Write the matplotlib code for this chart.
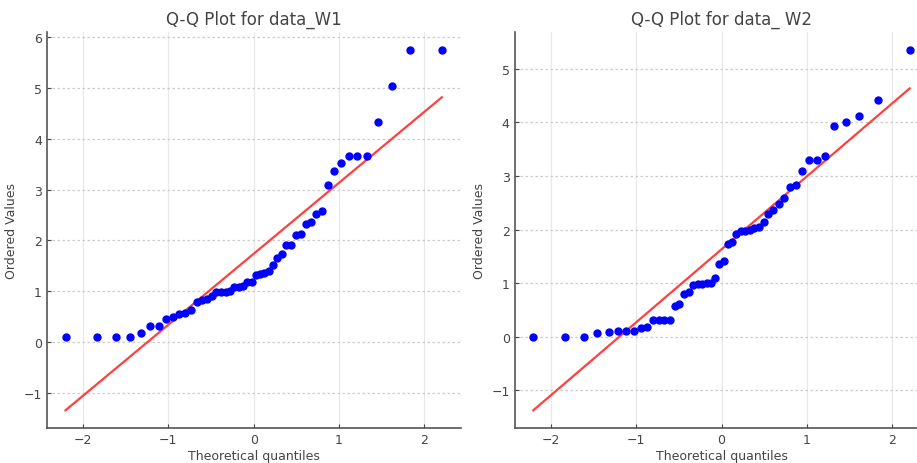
import numpy as np
import matplotlib
matplotlib.use("Agg")
import matplotlib.pyplot as plt
from statistics import NormalDist

# ordered sample values (50 points each)
data_w1 = [0.11, 0.10, 0.10, 0.10, 0.19, 0.32, 0.32, 0.46, 0.50, 0.55,
           0.58, 0.63, 0.80, 0.84, 0.86, 0.92, 0.99, 0.99, 0.99, 1.01,
           1.08, 1.08, 1.10, 1.18, 1.19, 1.33, 1.35, 1.36, 1.40, 1.52,
           1.65, 1.74, 1.92, 1.92, 2.10, 2.13, 2.32, 2.37, 2.53, 2.58,
           3.08, 3.37, 3.52, 3.65, 3.65, 3.65, 4.33, 5.04, 5.74, 5.74]
data_w2 = [0.00, 0.00, 0.00, 0.075, 0.08, 0.10, 0.10, 0.11, 0.16, 0.19,
           0.32, 0.32, 0.32, 0.32, 0.57, 0.62, 0.79, 0.84, 0.97, 0.99,
           0.99, 1.00, 1.00, 1.09, 1.36, 1.41, 1.73, 1.76, 1.91, 1.97,
           1.98, 2.00, 2.03, 2.05, 2.15, 2.29, 2.36, 2.48, 2.59, 2.79,
           2.84, 3.09, 3.30, 3.30, 3.38, 3.93, 4.00, 4.12, 4.41, 5.35]
titles = ["Q-Q Plot for data_W1", "Q-Q Plot for data_ W2"]


def theoretical_quantiles(n):
    # Filliben's order statistic medians, as in scipy.stats.probplot
    m = [(i - 0.3175) / (n + 0.365) for i in range(1, n + 1)]
    m[-1] = 0.5 ** (1.0 / n)
    m[0] = 1 - m[-1]
    nd = NormalDist()
    return np.array([nd.inv_cdf(p) for p in m])


text_col = "#444444"
fig = plt.figure(figsize=(9.17, 4.64), dpi=100)
W, H = 917, 464
positions = [
    [46.7 / W, (H - 429.3) / H, 414 / W, 396.3 / H],
    [514.5 / W, (H - 429.3) / H, 414 / W, 396.3 / H],
]

for pos, vals, title in zip(positions, [data_w1, data_w2], titles):
    ax = fig.add_axes(pos)
    y = np.sort(np.array(vals))
    x = theoretical_quantiles(len(y))
    slope, intercept = np.polyfit(x, y, 1)

    ax.plot(x, y, "o", color="#0000ff", markersize=5, zorder=3)
    ax.plot(x, slope * x + intercept, "-", color="#ff4040", lw=1.6, zorder=2)

    ax.grid(axis="y", color="#cccccc", ls=(0, (2, 2)), lw=0.9)
    ax.grid(axis="x", color="#e8e8e8", ls="-", lw=0.9)
    ax.set_axisbelow(True)
    for s in ["top", "right"]:
        ax.spines[s].set_visible(False)
    for s in ["left", "bottom"]:
        ax.spines[s].set_color("#555555")
        ax.spines[s].set_linewidth(1.2)
    ax.tick_params(colors=text_col, labelsize=9, length=3, direction="in")
    ax.set_xticks([-2, -1, 0, 1, 2])

    ax.set_title(title, fontsize=12, color=text_col)
    ax.set_xlabel("Theoretical quantiles", fontsize=9, color=text_col, labelpad=2)
    ax.set_ylabel("Ordered Values", fontsize=9, color=text_col)

fig.savefig("out.png", dpi=100)
